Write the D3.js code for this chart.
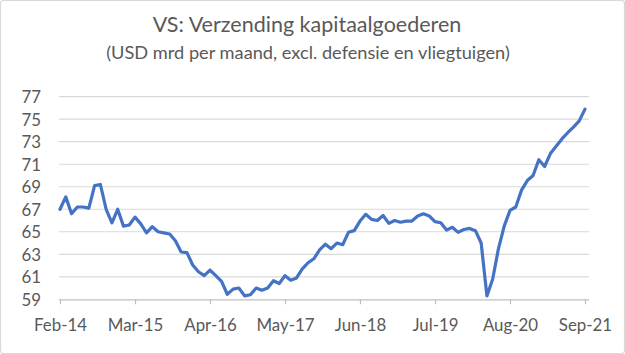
<!DOCTYPE html>
<html>
<head>
<meta charset="utf-8">
<script src="https://cdn.jsdelivr.net/npm/d3@7"></script>
<style>
  html, body { margin: 0; padding: 0; background: #fff; }
  svg { display: block; }
  text { font-family: Lato, "Open Sans", sans-serif; fill: #595959; }
</style>
</head>
<body>
<svg id="chart" width="625" height="354"></svg>
<script>
// ---- data ----
const title = "VS: Verzending kapitaalgoederen";
const subtitle = "(USD mrd per maand, excl. defensie en vliegtuigen)";
const startMonth = "2014-02"; // Feb-14, monthly
const values = [
  67.0, 68.1, 66.6, 67.2, 67.2, 67.1, 69.1, 69.2, 67.0, 65.8,
  67.0, 65.5, 65.6, 66.3, 65.7, 64.9, 65.45, 65.0, 64.9, 64.8,
  64.2, 63.2, 63.15, 62.05, 61.45, 61.1, 61.6, 61.1, 60.6, 59.45,
  59.9, 60.0, 59.3, 59.4, 60.0, 59.8, 60.0, 60.65, 60.4, 61.1,
  60.7, 60.9, 61.7, 62.25, 62.6, 63.4, 63.9, 63.5, 64.0, 63.85,
  64.95, 65.1, 65.95, 66.55, 66.1, 66.0, 66.45, 65.75, 66.0, 65.85,
  65.95, 65.95, 66.4, 66.6, 66.4, 65.9, 65.8, 65.15, 65.4, 64.95,
  65.2, 65.3, 65.1, 64.0, 59.3, 60.8, 63.5, 65.5, 66.9, 67.2,
  68.7, 69.55, 70.0, 71.4, 70.8, 71.95, 72.6, 73.25, 73.8, 74.3,
  74.85, 75.9
];
const xTickIndex = [0, 13, 26, 39, 52, 65, 78, 91];
const xTickLabels = ["Feb-14", "Mar-15", "Apr-16", "May-17", "Jun-18", "Jul-19", "Aug-20", "Sep-21"];
const yTicks = [59, 61, 63, 65, 67, 69, 71, 73, 75, 77];

// ---- layout ----
const svg = d3.select("#chart");
const W = 625, H = 354;
const plot = { left: 59, right: 589, top: 96.7, bottom: 299.3 };

svg.append("rect")
  .attr("x", 0.5).attr("y", 0.5).attr("width", W - 1).attr("height", H - 1)
  .attr("rx", 3).attr("fill", "#fff").attr("stroke", "#d9d9d9").attr("stroke-width", 1.2);

const x = d3.scaleLinear().domain([0, values.length - 1]).range([60, 585]);
const y = d3.scaleLinear().domain([59, 77]).range([plot.bottom, plot.top]);

function fit(sel, target, base) {
  sel.style("font-size", base + "px");
  const w = sel.node().getComputedTextLength();
  const s = base * target / w;
  sel.style("font-size", s + "px");
  return s;
}

// titles
const t1 = svg.append("text").attr("x", 307).attr("y", 31.5)
  .attr("text-anchor", "middle").text(title);
fit(t1, 309, 20);
const t2 = svg.append("text").attr("x", 308).attr("y", 58.5)
  .attr("text-anchor", "middle").text(subtitle);
fit(t2, 404, 16);

// measure tick font size
const probe = svg.append("text").text("Feb-14");
const tickSize = fit(probe, 53, 16);
probe.remove();

// gridlines
svg.append("g").selectAll("line")
  .data(yTicks.filter(d => d !== 59))
  .join("line")
  .attr("x1", plot.left).attr("x2", plot.right)
  .attr("y1", d => y(d)).attr("y2", d => y(d))
  .attr("stroke", "#d9d9d9").attr("stroke-width", 1.2);

// y axis labels
const yAxis = d3.axisLeft(y).tickValues(yTicks).tickSize(0).tickPadding(0).tickFormat(d3.format("d"));
const gy = svg.append("g").attr("transform", `translate(${41},0)`).call(yAxis);
gy.select(".domain").remove();
gy.selectAll("text").style("font-size", tickSize + "px").attr("fill", "#595959")
  .style("font-family", "Lato, 'Open Sans', sans-serif").attr("dy", "0.35em");

// x axis
const xAxis = d3.axisBottom(x).tickValues(xTickIndex)
  .tickFormat((d, i) => xTickLabels[i]).tickSize(5).tickSizeOuter(0).tickPadding(15);
const gx = svg.append("g").attr("transform", `translate(0,${plot.bottom})`).call(xAxis);
gx.select(".domain").attr("d", `M${plot.left},0.5H${plot.right}`).attr("stroke", "#bfbfbf").attr("stroke-width", 1.2);
gx.selectAll(".tick line").attr("stroke", "#bfbfbf").attr("stroke-width", 1.2);
gx.selectAll("text").style("font-size", tickSize + "px").attr("fill", "#595959")
  .style("font-family", "Lato, 'Open Sans', sans-serif");

// line
const line = d3.line().x((d, i) => x(i)).y(d => y(d));
svg.append("path").datum(values)
  .attr("d", line)
  .attr("fill", "none")
  .attr("stroke", "#4472C4")
  .attr("stroke-width", 3.2)
  .attr("stroke-linejoin", "round")
  .attr("stroke-linecap", "round");
</script>
</body>
</html>
